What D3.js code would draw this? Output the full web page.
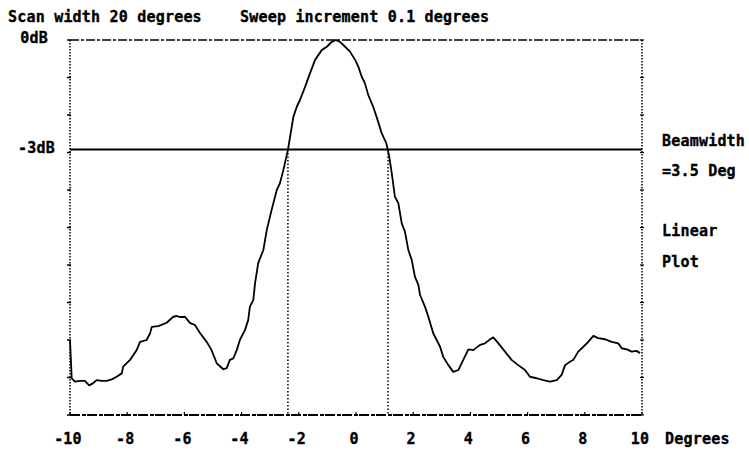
<!DOCTYPE html>
<html><head><meta charset="utf-8">
<script src="https://cdn.jsdelivr.net/npm/d3@7"></script>
<style>
body{margin:0;background:#fff}
svg{display:block}
text{font-family:"DejaVu Sans Mono",monospace;font-weight:bold;font-size:15px;fill:#000;stroke:#000;stroke-width:0.35px;letter-spacing:0.2px}
</style></head><body>
<svg id="chart" width="749" height="453"></svg>
<script>
// Antenna scan: relative (linear) amplitude vs. pointing angle in degrees
const angleDeg = [
  -10.00, -9.94, -9.83, -9.65, -9.48, -9.33, -9.19, -9.07, -8.89, -8.72,
  -8.54, -8.37, -8.19, -8.14, -7.90, -7.67, -7.55, -7.32, -7.20, -7.14,
  -6.91, -6.62, -6.39, -6.27, -6.15, -5.98, -5.80, -5.63, -5.45, -5.22,
  -5.05, -4.87, -4.64, -4.52, -4.41, -4.29, -4.17, -4.06, -3.88, -3.77,
  -3.71, -3.59, -3.53, -3.42, -3.24, -3.12, -2.95, -2.77, -2.66, -2.54,
  -2.38, -2.19, -2.07, -1.96, -1.78, -1.61, -1.43, -1.20, -1.02, -0.85,
  -0.70, -0.56, -0.38, -0.21, -0.03, 0.08, 0.20, 0.31, 0.43, 0.60,
  0.72, 0.90, 1.06, 1.16, 1.25, 1.36, 1.48, 1.60, 1.71, 1.83,
  1.95, 2.06, 2.18, 2.24, 2.41, 2.53, 2.70, 2.94, 3.05, 3.23,
  3.40, 3.58, 3.75, 3.93, 4.10, 4.34, 4.51, 4.69, 4.80, 4.98,
  5.21, 5.44, 5.67, 5.91, 6.08, 6.32, 6.55, 6.78, 7.02, 7.19,
  7.31, 7.48, 7.60, 7.77, 7.95, 8.12, 8.30, 8.47, 8.71, 8.94,
  9.17, 9.29, 9.47, 9.64, 9.81, 9.93
];
const amplitude = [
  0.200, 0.098, 0.089, 0.091, 0.091, 0.079, 0.085, 0.093, 0.091, 0.091,
  0.095, 0.102, 0.111, 0.129, 0.147, 0.173, 0.195, 0.200, 0.218, 0.235,
  0.237, 0.246, 0.262, 0.264, 0.261, 0.262, 0.245, 0.240, 0.218, 0.195,
  0.173, 0.138, 0.122, 0.125, 0.147, 0.151, 0.173, 0.200, 0.227, 0.253,
  0.289, 0.307, 0.351, 0.405, 0.440, 0.493, 0.547, 0.600, 0.618, 0.653,
  0.707, 0.795, 0.822, 0.840, 0.875, 0.911, 0.947, 0.973, 0.982, 0.995,
  1.000, 0.995, 0.982, 0.969, 0.947, 0.929, 0.902, 0.885, 0.853, 0.822,
  0.795, 0.751, 0.725, 0.690, 0.645, 0.582, 0.565, 0.511, 0.489, 0.440,
  0.413, 0.369, 0.347, 0.320, 0.289, 0.262, 0.218, 0.182, 0.155, 0.133,
  0.115, 0.120, 0.147, 0.175, 0.173, 0.187, 0.191, 0.202, 0.207, 0.191,
  0.169, 0.147, 0.133, 0.120, 0.102, 0.098, 0.093, 0.089, 0.093, 0.107,
  0.133, 0.142, 0.147, 0.169, 0.182, 0.195, 0.211, 0.205, 0.202, 0.195,
  0.191, 0.178, 0.175, 0.169, 0.171, 0.165
];
const xTicks = [-10, -8, -6, -4, -2, 0, 2, 4, 6, 8, 10];
const dbMarks = [0, -3];
const dbLabels = ["0dB", "-3dB"];
const beamEdges = [-2.38, 1.12];
const headerText = ["Scan width 20 degrees", "Sweep increment 0.1 degrees"];
const sideText = ["Beamwidth", "=" + (beamEdges[1] - beamEdges[0]).toFixed(1) + " Deg", "Linear", "Plot"];

const svg = d3.select("#chart");
const x = d3.scaleLinear().domain([-10, 10]).range([70, 642]);
const y = d3.scaleLinear().domain([0, 1]).range([415, 40]);
const dbToAmp = db => Math.pow(10, db / 20);

// plot frame
const frame = svg.append("g").attr("fill", "none").attr("stroke", "#000");
frame.append("line").attr("x1", x(-10)).attr("x2", x(10)).attr("y1", y(1)).attr("y2", y(1))
  .attr("stroke-width", 1.5).attr("stroke-dasharray", "9,2,3,2");
frame.append("line").attr("x1", x(-10)).attr("x2", x(10)).attr("y1", y(0)).attr("y2", y(0))
  .attr("stroke-width", 1.8).attr("stroke-dasharray", "10,2,4,1");
frame.append("line").attr("x1", x(-10)).attr("x2", x(-10)).attr("y1", y(1)).attr("y2", y(0))
  .attr("stroke-width", 1.5).attr("stroke-dasharray", "1.5,1.5");
frame.append("line").attr("x1", x(10)).attr("x2", x(10)).attr("y1", y(1)).attr("y2", y(0))
  .attr("stroke-width", 1.5).attr("stroke-dasharray", "1.5,1.5");

// amplitude ticks every 0.1 on both sides
const ampTicks = y.ticks(10);
svg.append("g").selectAll("line.l").data(ampTicks).join("line")
  .attr("x1", x(-10) - 3).attr("x2", x(-10) + 1)
  .attr("y1", d => y(d)).attr("y2", d => y(d))
  .attr("stroke", "#000").attr("stroke-width", 1.5);
svg.append("g").selectAll("line.r").data(ampTicks).join("line")
  .attr("x1", x(10) - 2).attr("x2", x(10) + 2)
  .attr("y1", d => y(d)).attr("y2", d => y(d))
  .attr("stroke", "#000").attr("stroke-width", 1.2);

// angle ticks
svg.append("g").selectAll("line").data(xTicks).join("line")
  .attr("x1", d => x(d)).attr("x2", d => x(d))
  .attr("y1", y(0)).attr("y2", y(0) - 3)
  .attr("stroke", "#000").attr("stroke-width", 1.2);

// -3 dB reference line
svg.append("line")
  .attr("x1", x(-10)).attr("x2", x(10))
  .attr("y1", y(dbToAmp(-3))).attr("y2", y(dbToAmp(-3)))
  .attr("stroke", "#000").attr("stroke-width", 1.8);

// beam edges at the -3 dB points
svg.append("g").selectAll("line").data(beamEdges).join("line")
  .attr("x1", d => x(d)).attr("x2", d => x(d))
  .attr("y1", y(dbToAmp(-3))).attr("y2", y(0))
  .attr("stroke", "#000").attr("stroke-width", 1.5).attr("stroke-dasharray", "1.5,2");

// measured pattern
const pts = angleDeg.map((a, i) => [a, amplitude[i]]);
svg.append("path").datum(pts)
  .attr("fill", "none").attr("stroke", "#000").attr("stroke-width", 1.8)
  .attr("stroke-linejoin", "round")
  .attr("d", d3.line().x(d => x(d[0])).y(d => y(d[1])));

// text
svg.append("text").attr("x", 8).attr("y", 22).text(headerText[0]);
svg.append("text").attr("x", 240).attr("y", 22).text(headerText[1]);
svg.append("g").selectAll("text").data(dbMarks).join("text")
  .attr("x", (d, i) => i === 0 ? 48 : 55).attr("y", d => y(dbToAmp(d)) + 3)
  .attr("text-anchor", "end").text((d, i) => dbLabels[i]);
svg.append("g").selectAll("text").data(xTicks).join("text")
  .attr("x", d => x(d) - 2).attr("y", 444)
  .attr("text-anchor", "middle").text(d => d);
svg.append("text").attr("x", 665).attr("y", 444).text("Degrees");
const sideY = [146, 176, 236, 267];
svg.append("g").selectAll("text").data(sideText).join("text")
  .attr("x", 662).attr("y", (d, i) => sideY[i]).text(d => d);
</script>
</body></html>
